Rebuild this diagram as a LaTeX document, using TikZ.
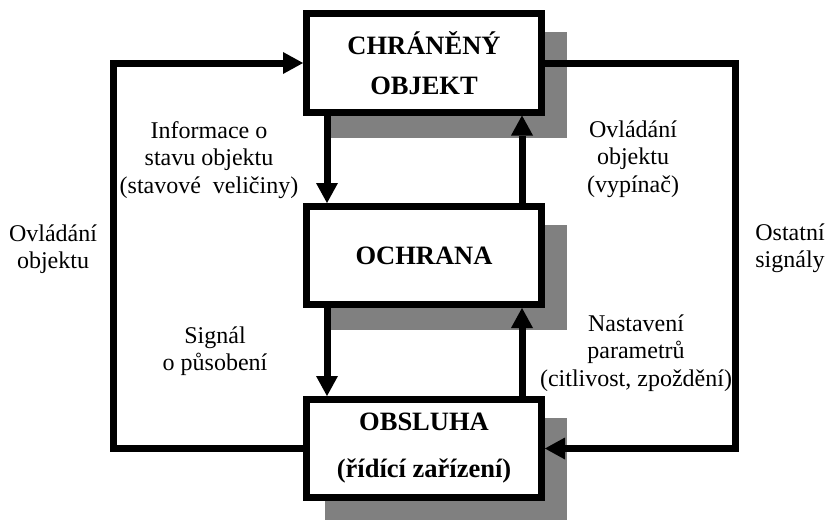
\documentclass[tikz,border=0pt]{standalone}
\usepackage{fontspec}
\setmainfont{Liberation Serif}
\usetikzlibrary{arrows.meta,backgrounds}

\begin{document}
\begin{tikzpicture}[x=1pt,y=-1pt,
        blok/.style={draw,fill=white,line width=7pt,minimum width=235pt,minimum height=98pt,
            align=center,font=\fontsize{26.5}{40}\selectfont\bfseries},
        stin/.style={fill=gray},
        sipka/.style={line width=7pt,-{Triangle[length=20pt,width=22pt,line width=0pt]}},
        popis/.style={align=center,font=\fontsize{24}{27.5}\selectfont}]
                            % Bounding box
                            \useasboundingbox (0,0) rectangle (826,519);

                            % Blocks
                            \node[blok] (objekt) at (424,63) {CHRÁNĚNÝ\\OBJEKT};
                            \node[blok] (ochrana) at (424,255.5) {OCHRANA};
                            \node[blok] (obsluha) at (424,448.5) {OBSLUHA\\[7pt](řídící zařízení)};

                            % Shadows
                            \begin{scope}[on background layer]
                                \foreach \b in {objekt,ochrana,obsluha}
                                    \fill[stin] ([shift={(22,22)}]\b.north west) rectangle ([shift={(22,22)}]\b.south east);
                            \end{scope}

                            % Arrows between blocks
                            \draw[sipka] ([xshift=24pt]objekt.south west) -- ([xshift=24pt]ochrana.north west);
                            \draw[sipka] ([xshift=-23pt]ochrana.north east) -- ([xshift=-23pt]objekt.south east);
                            \draw[sipka] ([xshift=24pt]ochrana.south west) -- ([xshift=24pt]obsluha.north west);
                            \draw[sipka] ([xshift=-23pt]obsluha.north east) -- ([xshift=-23pt]ochrana.south east);

                            % Outer loops
                            \draw[sipka] (obsluha.west) -- ++(-190,0) |- (objekt.west);
                            \draw[sipka] (objekt.east) -- ++(190,0) |- (obsluha.east);

                            % Labels
                            \node[popis] (info) at (209,160) {Informace o\\stavu objektu\\(stavové\ \ veličiny)};
                            \node[popis] (vypinac) at (633,159) {Ovládání\\objektu\\(vypínač)};
                            \node[popis] (ovladani) at (53,249) {Ovládání\\objektu};
                            \node[popis] (ostatni) at (790,248) {Ostatní\\signály};
                            \node[popis] (signal) at (215,351) {Signál\\o působení};
                            \node[popis] (nastaveni) at (636,353) {Nastavení\\parametrů\\(citlivost, zpoždění)};
                      \end{tikzpicture}
\end{document}
